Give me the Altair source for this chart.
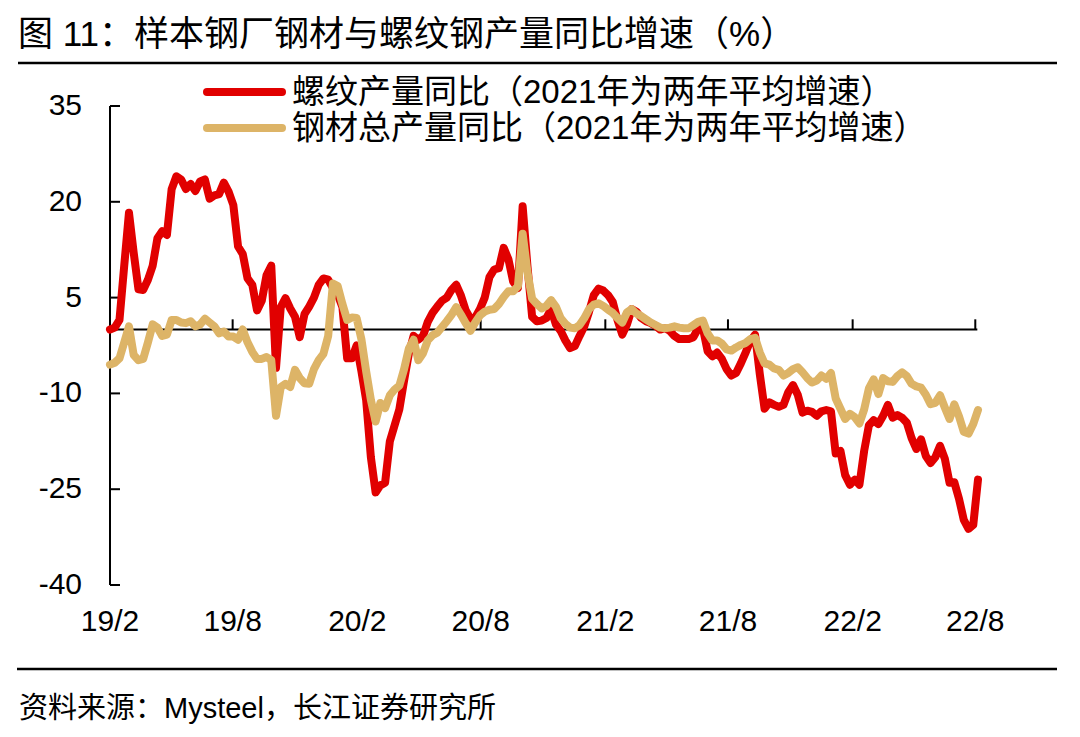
import altair as alt
import pandas as pd

# ---------------- data (weekly) ----------------
start_date = "2019-02-01"

rebar_yoy = [
    0.0, 0.3, 1.5, 10.0, 18.3, 12.0, 6.3, 6.2, 7.8, 10.0,
    14.3, 15.4, 14.8, 22.0, 24.0, 23.5, 22.0, 22.8, 21.7, 23.2,
    23.5, 20.5, 21.0, 21.2, 23.0, 21.6, 19.5, 13.0, 11.8, 8.0,
    7.0, 3.0, 4.5, 8.5, 10.0, -6.0, 3.5, 4.9, 3.3, 2.0,
    -1.2, 2.4, 3.6, 5.0, 7.0, 8.0, 7.8, 6.5, 5.5, 3.5,
    -4.5, -4.5, -2.5, -6.5, -11.0, -20.0, -25.5, -24.4, -24.0, -17.5,
    -15.0, -12.5, -8.0, -3.8, -1.0, -1.6, -1.0, 1.2, 2.6, 3.6,
    4.5, 5.0, 6.2, 7.0, 5.3, 3.0, 1.7, 1.9, 3.2, 5.0,
    8.2, 9.4, 9.6, 12.8, 11.0, 7.5, 6.5, 19.3, 10.0, 2.0,
    1.3, 1.4, 1.8, 3.2, 0.8, -0.2, -1.7, -2.9, -2.6, -1.0,
    0.5, 2.8, 5.4, 6.4, 6.1, 5.4, 4.3, 1.5, -0.8, 0.8,
    3.2, 2.8, 1.8, 1.3, 1.0, 0.6, 0.0, 0.2, -0.2, -1.0,
    -1.5, -1.5, -1.5, -1.2, 0.2, 0.2, -3.4, -4.2, -3.6, -4.6,
    -6.2, -7.2, -6.8, -5.3, -3.6, -1.8, -0.8, -7.0, -12.4, -11.4,
    -11.8, -12.1, -11.8, -9.8, -8.7, -10.2, -13.0, -12.7, -12.9, -13.5,
    -12.8, -12.6, -12.8, -19.4, -19.0, -22.8, -24.3, -23.5, -24.3, -19.0,
    -15.0, -14.2, -14.8, -13.5, -11.8, -13.8, -13.4, -13.8, -14.6, -17.0,
    -18.7, -17.2, -19.8, -20.9, -20.0, -18.2, -20.2, -24.0, -23.9, -26.5,
    -29.8, -31.2, -30.6, -23.5,
]

steel_yoy = [
    -5.5, -5.2, -4.5, -2.0, 0.5, -4.0, -4.8, -4.6, -2.0, 0.8,
    0.3, -1.0, -0.8, 1.5, 1.5, 1.1, 1.0, 1.3, 0.5, 0.8,
    1.7, 1.1, 0.5, -0.6, -0.3, -1.1, -1.1, -1.6, 0.0, -2.0,
    -3.5, -4.6, -4.6, -4.3, -4.8, -13.5, -9.0, -8.5, -9.0, -6.3,
    -7.6, -8.4, -8.5, -6.2, -4.8, -3.8, -1.0, 7.2, 6.8, 4.0,
    1.5, 1.9, 1.8, -1.5, -6.5, -11.0, -14.4, -11.5, -12.3, -10.3,
    -9.4, -8.8, -6.2, -3.0, -1.6, -4.8, -3.7, -1.7, -0.9, -0.5,
    0.4, 1.3, 2.3, 3.5, 2.3, 1.0, -0.2, 1.1, 2.2, 2.8,
    3.1, 3.2, 4.0, 5.1, 6.0, 6.0, 6.8, 15.0, 9.0, 4.8,
    4.0, 3.3, 3.7, 4.6, 3.6, 1.8, 0.9, 0.3, 0.2, 0.7,
    1.8, 3.2, 3.9, 4.1, 3.7, 3.1, 2.6, 1.8, 1.1, 2.7,
    3.2, 2.5, 2.1, 1.6, 1.1, 0.7, 0.3, 0.2, 0.3, 0.5,
    0.3, 0.2, 0.2, 0.7, 1.2, 1.4, -0.6, -1.7, -1.7, -2.2,
    -3.1, -3.3, -2.8, -2.4, -2.1, -1.5, -1.3, -3.6, -5.3, -5.5,
    -6.1, -6.3, -7.2, -6.8, -6.2, -5.9, -6.7, -7.6, -8.3, -8.0,
    -7.2, -7.7, -6.8, -10.8, -12.4, -14.0, -13.2, -13.7, -14.7, -12.5,
    -9.2, -7.8, -10.1, -7.6, -8.1, -8.2, -7.3, -6.7, -7.3, -8.5,
    -8.9, -9.1, -10.2, -11.7, -11.5, -10.3, -12.2, -14.0, -11.7, -13.6,
    -16.0, -16.3, -14.8, -12.6,
]

y_ticks = [-40, -25, -10, 5, 20, 35]
x_tick_dates = ["2019-02-01", "2019-08-01", "2020-02-01", "2020-08-01",
                "2021-02-01", "2021-08-01", "2022-02-01", "2022-08-01"]
x_tick_labels = ["19/2", "19/8", "20/2", "20/8", "21/2", "21/8", "22/2", "22/8"]

title_text = "图 11：样本钢厂钢材与螺纹钢产量同比增速（%）"
legend_labels = ["螺纹产量同比（2021年为两年平均增速）", "钢材总产量同比（2021年为两年平均增速）"]
source_text = "资料来源：Mysteel，长江证券研究所"

# ---------------- styling ----------------
RED = "#E10000"
TAN = "#DDB467"
FONT = "Liberation Sans, Noto Sans CJK SC, sans-serif"
W, H = 868, 479

dates = pd.date_range(start_date, periods=len(rebar_yoy), freq="7D")
df = pd.DataFrame({"date": dates, "rebar": rebar_yoy, "steel": steel_yoy})

tick_ts = pd.to_datetime(x_tick_dates)
tick_df = pd.DataFrame({"d": tick_ts, "label": x_tick_labels,
                        "y0": [0.0] * len(tick_ts), "y1": [1.6] * len(tick_ts)})
ytick_df = pd.DataFrame({"v": y_ticks, "label": [str(v) for v in y_ticks]})

x_min = pd.Timestamp("2019-02-01")
x_max = pd.Timestamp("2022-08-05")
xscale = alt.Scale(domain=[x_min.isoformat(), x_max.isoformat()])
yscale = alt.Scale(domain=[-40, 35], nice=False, zero=False)

one = pd.DataFrame({"k": [0]})

# ---- axes drawn by hand ----
zero_df = pd.DataFrame({"a": [x_min], "b": [pd.Timestamp("2022-08-04")], "y0": [0.0]})
zero_line = alt.Chart(zero_df).mark_rule(color="black", strokeWidth=2).encode(
    x=alt.X("a:T", scale=xscale, axis=None), x2="b:T",
    y=alt.Y("y0:Q", scale=yscale, axis=None))

x_ticks = alt.Chart(tick_df).mark_rule(color="black", strokeWidth=2).encode(
    x=alt.X("d:T", scale=xscale, axis=None),
    y=alt.Y("y0:Q", scale=yscale, axis=None), y2="y1:Q")

x_labels = alt.Chart(tick_df).mark_text(
    align="center", baseline="middle", fontSize=30, font=FONT, color="black").encode(
    x=alt.X("d:T", scale=xscale, axis=None), y=alt.value(H + 37), text="label:N")

y_domain = alt.Chart(pd.DataFrame({"lo": [min(y_ticks)], "hi": [max(y_ticks)]})).mark_rule(
    color="black", strokeWidth=2).encode(
    x=alt.value(0), y=alt.Y("lo:Q", scale=yscale, axis=None), y2="hi:Q")

y_tick_marks = alt.Chart(ytick_df).mark_rule(color="black", strokeWidth=2).encode(
    y=alt.Y("v:Q", scale=yscale, axis=None), x=alt.value(0), x2=alt.value(10))

y_labels = alt.Chart(ytick_df).mark_text(
    align="right", baseline="middle", fontSize=30, font=FONT, color="black").encode(
    y=alt.Y("v:Q", scale=yscale, axis=None), x=alt.value(-28), text="label:N")

# ---- series ----
red_line = alt.Chart(df).mark_line(
    color=RED, strokeWidth=8, strokeJoin="round", strokeCap="round").encode(
    x=alt.X("date:T", scale=xscale, axis=None),
    y=alt.Y("rebar:Q", scale=yscale, axis=None),
)

tan_line = alt.Chart(df).mark_line(
    color=TAN, strokeWidth=8, strokeJoin="round", strokeCap="round").encode(
    x=alt.X("date:T", scale=xscale, axis=None),
    y=alt.Y("steel:Q", scale=yscale, axis=None),
)

# ---- title, legend, source ----
title = alt.Chart(one).mark_text(
    text=title_text, align="left", baseline="middle", fontSize=35, font=FONT, color="black").encode(
    x=alt.value(-92), y=alt.value(-71.5))

rule_top = alt.Chart(one).mark_rule(color="black", strokeWidth=2.5).encode(
    x=alt.value(-92), x2=alt.value(947), y=alt.value(-43))

leg_red = alt.Chart(one).mark_rule(color=RED, strokeWidth=8, strokeCap="round").encode(
    x=alt.value(97), x2=alt.value(172), y=alt.value(-14))
leg_tan = alt.Chart(one).mark_rule(color=TAN, strokeWidth=8, strokeCap="round").encode(
    x=alt.value(97), x2=alt.value(172), y=alt.value(22))
leg_red_t = alt.Chart(one).mark_text(
    text=legend_labels[0], align="left", baseline="middle", fontSize=33, font=FONT, color="black").encode(
    x=alt.value(182), y=alt.value(-13))
leg_tan_t = alt.Chart(one).mark_text(
    text=legend_labels[1], align="left", baseline="middle", fontSize=33, font=FONT, color="black").encode(
    x=alt.value(182), y=alt.value(23))

rule_bot = alt.Chart(one).mark_rule(color="black", strokeWidth=2.5).encode(
    x=alt.value(-93), x2=alt.value(947), y=alt.value(563))

footer = alt.Chart(one).mark_text(
    text=source_text, align="left", baseline="middle", fontSize=29, font=FONT, color="black").encode(
    x=alt.value(-91), y=alt.value(603))

chart = alt.layer(
    zero_line, x_ticks, y_domain, y_tick_marks, red_line, tan_line,
    x_labels, y_labels,
    title, rule_top, leg_red, leg_tan, leg_red_t, leg_tan_t, rule_bot, footer,
).properties(
    width=W, height=H,
    padding={"left": 102, "top": 98, "right": 90, "bottom": 142},
    autosize=alt.AutoSizeParams(type="none"),
    background="white",
).configure_view(stroke=None)

chart.save("out.html", embed_options={"renderer": "svg", "actions": False})
